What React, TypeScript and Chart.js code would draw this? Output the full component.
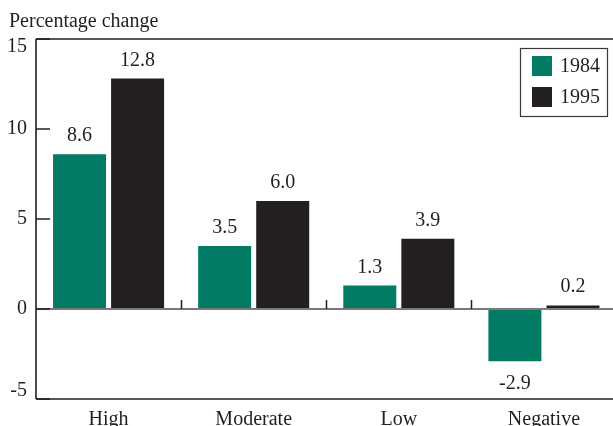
import React, { useEffect, useRef } from "react";
import { Chart, registerables } from "chart.js";

Chart.register(...registerables);

const categories = ["High", "Moderate", "Low", "Negative"];
const series1984 = [8.6, 3.5, 1.3, -2.9];
const series1995 = [12.8, 6.0, 3.9, 0.2];
const seriesLabels = ["1984", "1995"];
const yTicks = [-5, 0, 5, 10, 15];
const axisTitle = "Percentage change";

const GREEN = "#017B64";
const BLACK = "#231F20";
const FONT = "20px 'Liberation Serif', 'Times New Roman', serif";

const drawPlugin = {
  id: "customDraw",
  afterDatasetsDraw(chart: any) {
    const ctx = chart.ctx as CanvasRenderingContext2D;
    const { left, right, top, bottom } = chart.chartArea;
    const y = chart.scales.y;
    const x = chart.scales.x;
    ctx.save();

    // zero line
    const y0 = y.getPixelForValue(0);
    ctx.strokeStyle = "#7a7a7a";
    ctx.lineWidth = 2;
    ctx.beginPath();
    ctx.moveTo(left, y0);
    ctx.lineTo(right, y0);
    ctx.stroke();

    // category separators on zero line
    ctx.strokeStyle = BLACK;
    ctx.lineWidth = 1.5;
    for (let i = 1; i < categories.length; i++) {
      const px = Math.round((x.getPixelForTick(i - 1) + x.getPixelForTick(i)) / 2) + 0.5;
      ctx.beginPath();
      ctx.moveTo(px, y0);
      ctx.lineTo(px, y0 - 9);
      ctx.stroke();
    }

    // frame
    ctx.strokeStyle = BLACK;
    ctx.lineWidth = 1.6;
    ctx.beginPath();
    ctx.moveTo(left, top);
    ctx.lineTo(right, top);
    ctx.moveTo(left, top);
    ctx.lineTo(left, bottom);
    ctx.moveTo(left, bottom);
    ctx.lineTo(right, bottom);
    ctx.stroke();

    // y ticks and labels
    ctx.font = FONT;
    ctx.fillStyle = BLACK;
    ctx.textAlign = "right";
    ctx.textBaseline = "middle";
    ctx.lineWidth = 1.5;
    yTicks.forEach((v) => {
      const py = y.getPixelForValue(v);
      ctx.beginPath();
      ctx.moveTo(left, py);
      ctx.lineTo(left + 14, py);
      ctx.stroke();
      const ly = Math.min(Math.max(py, top + 8), bottom - 8);
      ctx.fillText(String(v), left - 9, ly);
    });

    // x labels
    ctx.textAlign = "center";
    ctx.textBaseline = "alphabetic";
    categories.forEach((c, i) => {
      ctx.fillText(c, x.getPixelForTick(i), bottom + 26);
    });

    // data labels
    chart.data.datasets.forEach((ds: any, di: number) => {
      const meta = chart.getDatasetMeta(di);
      meta.data.forEach((bar: any, i: number) => {
        const v = ds.data[i];
        const txt = v.toFixed(1);
        if (v >= 0) {
          ctx.fillText(txt, bar.x, bar.y - 13);
        } else {
          ctx.fillText(txt, bar.x, bar.y + 28);
        }
      });
    });

    // title
    ctx.textAlign = "left";
    ctx.fillText(axisTitle, 9, 27);

    // legend
    const lx = 520.5, ly = 48.5, lw = 87, lh = 68;
    ctx.strokeStyle = "#3a3a3a";
    ctx.lineWidth = 1.2;
    ctx.fillStyle = "#ffffff";
    ctx.fillRect(lx, ly, lw, lh);
    ctx.strokeRect(lx, ly, lw, lh);
    const colors = [GREEN, BLACK];
    seriesLabels.forEach((lab, i) => {
      ctx.fillStyle = colors[i];
      ctx.fillRect(532, 56 + i * 31, 20, 20);
      ctx.fillStyle = BLACK;
      ctx.fillText(lab, 560, 72 + i * 30.5);
    });

    ctx.restore();
  },
};

export default function App() {
  const ref = useRef<HTMLCanvasElement | null>(null);
  useEffect(() => {
    if (!ref.current) return;
    const chart = new Chart(ref.current, {
      type: "bar",
      data: {
        labels: categories,
        datasets: [
          {
            label: seriesLabels[0],
            data: series1984,
            backgroundColor: GREEN,
            categoryPercentage: 0.8,
            barPercentage: 0.913,
          },
          {
            label: seriesLabels[1],
            data: series1995,
            backgroundColor: BLACK,
            categoryPercentage: 0.8,
            barPercentage: 0.913,
          },
        ],
      },
      options: {
        responsive: false,
        animation: false,
        devicePixelRatio: 1,
        layout: { padding: { left: 36, top: 39, right: 3.5, bottom: 41 } },
        plugins: {
          legend: { display: false },
          tooltip: { enabled: false },
          title: { display: false },
        },
        scales: {
          x: {
            display: false,
            grid: { display: false },
          },
          y: {
            display: false,
            min: -5,
            max: 15,
            grid: { display: false },
          },
        },
      },
      plugins: [drawPlugin],
    });
    return () => chart.destroy();
  }, []);
  return (
    <div style={{ width: 613, height: 426, overflow: "hidden", position: "relative" }}>
      <style>{"html,body{margin:0;padding:0;overflow:hidden;}"}</style>
      <canvas ref={ref} width={620} height={440} style={{ display: "block", width: 620, height: 440 }} />
    </div>
  );
}
